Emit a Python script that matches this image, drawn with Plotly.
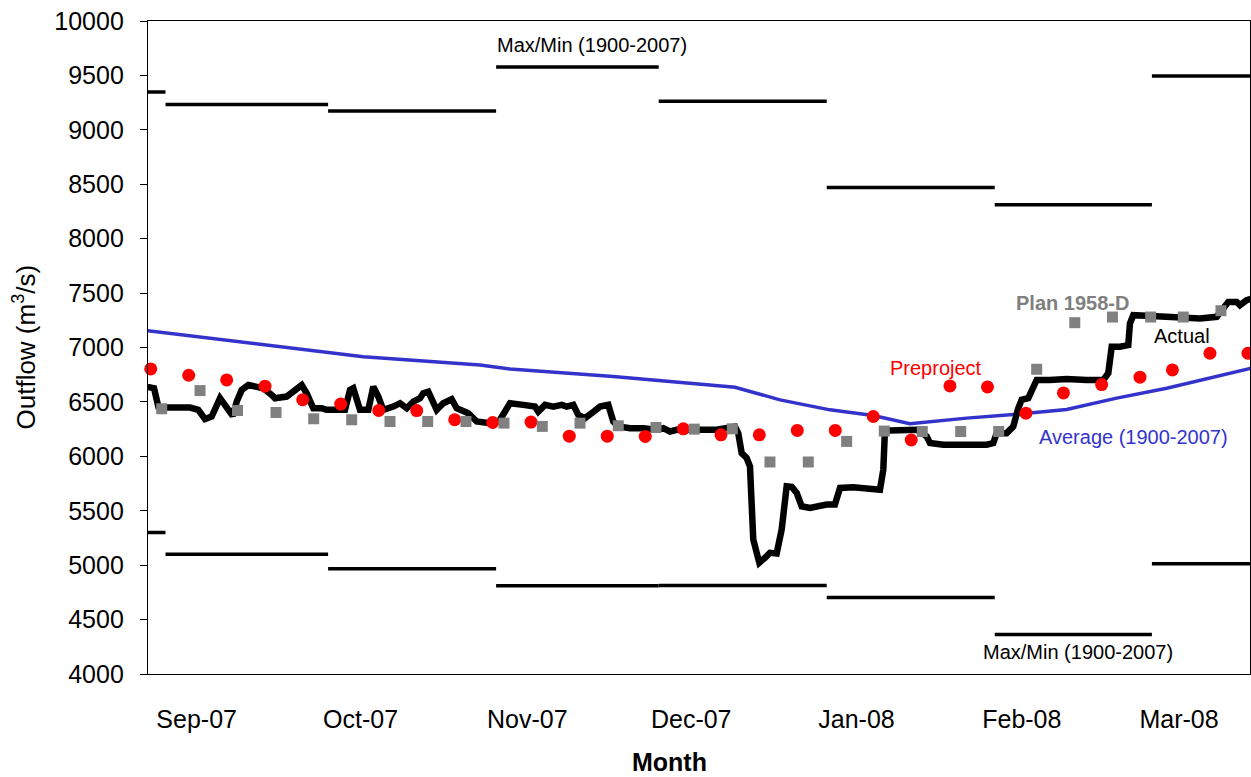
import pandas as pd
import plotly.graph_objects as go

# ---------------- data ----------------
BASE_DATE = "2007-09-01"          # day 0 of the day-offset arrays below

# monthly historical maximum / minimum outflow (1900-2007)
month_start = ["2007-08-01", "2007-09-01", "2007-10-01", "2007-11-01",
               "2007-12-01", "2008-01-01", "2008-02-01", "2008-03-01", "2008-04-01"]
month_max = [9348, 9233, 9172, 9578, 9263, 8471, 8311, 9495]
month_min = [5300, 5100, 4966, 4812, 4814, 4704, 4364, 5014]

# Average (1900-2007)
avg_day = [-3.3, 14.35, 36.49, 58.03, 63.56, 82.62, 105.07, 113.38, 122.60,
           130.59, 137.36, 147.82, 157.05, 166.27, 175.50, 184.73, 193.95, 200.4]
avg_flow = [7155, 7048, 6916, 6840, 6803, 6733, 6635, 6519, 6427,
            6375, 6299, 6351, 6386, 6430, 6535, 6626, 6732, 6810]

# Actual daily outflow
actual_day = [-3.3, -2.12, -1.33, 0.22, 4.52, 6.05, 7.29, 8.52, 10.06, 11.16,
              12.40, 13.14, 14.06, 15.28, 16.51, 18.04, 19.59, 20.20, 22.36, 23.89,
              25.13, 26.05, 27.27, 28.82, 29.74, 33.12, 34.04, 34.65, 35.89, 37.42,
              38.34, 39.26, 40.18, 42.03, 43.27, 44.50, 45.72, 46.96, 47.56, 48.49,
              50.04, 51.25, 52.80, 53.73, 55.26, 55.87, 57.42, 59.87, 61.72, 62.95,
              63.56, 66.01, 68.17, 68.78, 70.02, 71.55, 73.10, 74.02, 75.24, 76.16,
              77.40, 78.63, 80.17, 81.70, 82.62, 83.54, 85.70, 88.15, 90.63, 91.85,
              93.08, 94.32, 96.77, 101.70, 105.07, 105.68, 106.31, 107.23, 107.84, 108.45,
              109.08, 109.56, 110.61, 111.53, 112.77, 113.69, 114.61, 115.54, 116.46, 117.38,
              118.91, 120.76, 121.99, 123.52, 124.45, 126.90, 129.37, 131.83, 132.44, 132.75,
              133.67, 136.13, 138.60, 139.21, 140.44, 141.05, 143.51, 147.82, 151.51, 152.73,
              153.36, 155.20, 156.42, 157.34, 157.97, 159.19, 159.82, 160.74, 163.19, 166.27,
              169.96, 173.03, 173.95, 174.58, 176.11, 177.64, 177.95, 178.56, 181.04, 184.73,
              187.79, 190.87, 193.95, 194.87, 196.09, 197.64, 198.25, 199.49, 200.4]
actual_flow = [6638, 6626, 6457, 6448, 6448, 6427, 6342, 6366, 6534, 6457,
               6372, 6503, 6610, 6655, 6640, 6626, 6564, 6534, 6549, 6610,
               6655, 6579, 6442, 6442, 6427, 6427, 6610, 6626, 6427, 6427,
               6640, 6549, 6427, 6457, 6488, 6442, 6503, 6534, 6579, 6594,
               6427, 6488, 6525, 6442, 6411, 6396, 6320, 6305, 6336, 6457,
               6488, 6473, 6457, 6411, 6473, 6457, 6473, 6457, 6473, 6381,
               6351, 6396, 6457, 6473, 6320, 6275, 6259, 6259, 6244, 6259,
               6228, 6244, 6244, 6244, 6274, 6213, 6030, 5984, 5907, 5236,
               5114, 5023, 5068, 5114, 5108, 5328, 5724, 5719, 5664, 5541,
               5526, 5547, 5557, 5557, 5710, 5715, 5700, 5694, 5877, 6244,
               6238, 6238, 6244, 6229, 6183, 6122, 6107, 6107, 6107, 6122,
               6213, 6213, 6274, 6442, 6519, 6534, 6610, 6702, 6702, 6711,
               6702, 6702, 6763, 7007, 7007, 7022, 7221, 7297, 7291, 7282,
               7282, 7267, 7282, 7343, 7419, 7419, 7389, 7435, 7450]

# Preproject (weekly)
pre_day = [-2.73, 4.28, 11.29, 18.36, 25.31, 32.32, 39.34, 46.35, 53.36, 60.37,
           67.44, 74.50, 81.51, 88.52, 95.54, 102.49, 109.56, 116.57, 123.58, 130.59,
           137.6, 144.74, 151.66, 158.76, 165.68, 172.73, 179.80, 185.79, 192.71, 199.72]
pre_flow = [6803, 6745, 6702, 6645, 6520, 6480, 6421, 6420, 6336, 6311,
            6315, 6185, 6185, 6183, 6253, 6198, 6198, 6238, 6238, 6366,
            6150, 6647, 6638, 6397, 6583, 6659, 6727, 6794, 6947, 6947]

# Plan 1958-D (weekly)
plan_day = [-0.70, 6.37, 13.28, 20.39, 27.34, 34.35, 41.42, 48.38, 55.44, 62.45,
            69.52, 76.48, 83.54, 90.50, 97.56, 104.58, 111.53, 118.60, 125.68, 132.62,
            139.63, 146.72, 153.73, 160.74, 167.77, 174.72, 181.77, 187.79, 194.74]
plan_flow = [6437, 6604, 6421, 6403, 6345, 6336, 6320, 6320, 6320, 6305,
             6275, 6305, 6281, 6265, 6250, 6253, 5948, 5948, 6137, 6232,
             6228, 6228, 6228, 6800, 7228, 7280, 7280, 7280, 7338]

tick_dates = ["2007-09-06 18:00", "2007-10-07 00:00", "2007-11-06 18:00", "2007-12-07 00:00",
              "2008-01-06 12:00", "2008-02-06 00:00", "2008-03-06 00:00"]
tick_labels = ["Sep-07", "Oct-07", "Nov-07", "Dec-07", "Jan-08", "Feb-08", "Mar-08"]
y_ticks = list(range(4000, 10001, 500))
y_tick_labels = [str(v) for v in y_ticks]

# ---------------- helpers ----------------
base = pd.Timestamp(BASE_DATE)


def to_dates(days):
    return [base + pd.to_timedelta(d, unit="D") for d in days]


def segments(starts, values):
    xs, ys = [], []
    for i, v in enumerate(values):
        xs += [pd.Timestamp(starts[i]), pd.Timestamp(starts[i + 1]), None]
        ys += [v, v, None]
    return xs, ys


FONT = "Liberation Sans, Arial, sans-serif"
L, R, T, B = 148, 1250, 21, 674


def px(x):
    return (x - L) / (R - L)


def py(y):
    return (B - y) / (B - T)


fig = go.Figure()

sx, sy = segments(month_start, month_max)
fig.add_trace(go.Scatter(x=sx, y=sy, mode="lines", line=dict(color="black", width=3.5),
                         showlegend=False, hoverinfo="skip"))
sx, sy = segments(month_start, month_min)
fig.add_trace(go.Scatter(x=sx, y=sy, mode="lines", line=dict(color="black", width=3.5),
                         showlegend=False, hoverinfo="skip"))

fig.add_trace(go.Scatter(x=to_dates(avg_day), y=avg_flow, mode="lines",
                         line=dict(color="#3333CC", width=3.5), showlegend=False))
fig.add_trace(go.Scatter(x=to_dates(actual_day), y=actual_flow, mode="lines",
                         line=dict(color="black", width=6.5), showlegend=False))
fig.add_trace(go.Scatter(x=to_dates(pre_day), y=pre_flow, mode="markers",
                         marker=dict(color="#FF0000", size=13, symbol="circle"),
                         cliponaxis=False, showlegend=False))
fig.add_trace(go.Scatter(x=to_dates(plan_day), y=plan_flow, mode="markers",
                         marker=dict(color="#808080", size=11, symbol="square"),
                         cliponaxis=False, showlegend=False))

ann = [
    ("Max/Min (1900-2007)", 592, 45, "black", False),
    ("Max/Min (1900-2007)", 1077.5, 651.5, "black", False),
    ("Plan 1958-D", 1072, 303, "#808080", True),
    ("Actual", 1181.5, 336, "black", False),
    ("Preproject", 935.5, 368, "#FF0000", False),
    ("Average (1900-2007)", 1133.7, 437, "#3333CC", False),
]
for text, x, y, col, bold in ann:
    fig.add_annotation(x=px(x), y=py(y), xref="paper", yref="paper",
                       text=f"<b>{text}</b>" if bold else text, showarrow=False,
                       xanchor="center", yanchor="middle",
                       font=dict(family=FONT, size=20, color=col))

fig.add_annotation(x=px(669), y=py(762), xref="paper", yref="paper", text="<b>Month</b>",
                   showarrow=False, xanchor="center", yanchor="middle",
                   font=dict(family=FONT, size=25, color="black"))
fig.add_annotation(x=px(25), y=py(347.5), xref="paper", yref="paper",
                   text="Outflow (m<sup>3</sup>/s)", textangle=-90,
                   showarrow=False, xanchor="center", yanchor="middle",
                   font=dict(family=FONT, size=26, color="black"))

fig.update_layout(
    width=1251, height=777,
    margin=dict(l=L, r=1251 - R, t=T, b=777 - B),
    paper_bgcolor="white", plot_bgcolor="white",
    font=dict(family=FONT, color="black"),
    showlegend=False,
)
fig.update_xaxes(
    type="date",
    range=[base + pd.to_timedelta(-3.23, unit="D"), base + pd.to_timedelta(200.1, unit="D")],
    tickvals=[pd.Timestamp(t) for t in tick_dates], ticktext=tick_labels,
    ticks="", showgrid=False, zeroline=False,
    showline=True, linecolor="black", linewidth=1.3, mirror=True,
    tickfont=dict(family=FONT, size=25, color="black"),
    ticklabelstandoff=23,
)
fig.update_yaxes(
    range=[4000, 10000], tickvals=y_ticks, ticktext=y_tick_labels,
    ticks="outside", ticklen=7, tickwidth=1.3, tickcolor="black",
    showgrid=False, zeroline=False,
    showline=True, linecolor="black", linewidth=1.3, mirror=True,
    tickfont=dict(family=FONT, size=25, color="black"),
    ticklabelstandoff=11,
)

fig.write_html("out.html")
